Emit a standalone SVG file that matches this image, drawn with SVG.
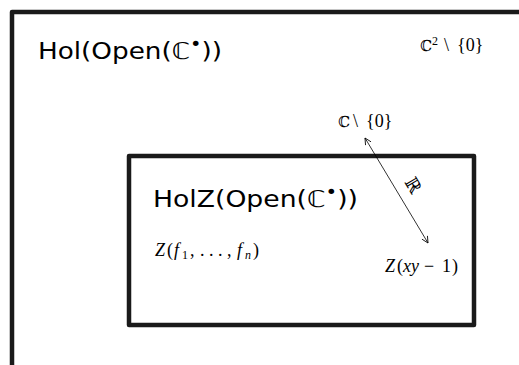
<svg xmlns="http://www.w3.org/2000/svg" width="519" height="365" viewBox="0 0 519 365">
<style>
.frame{fill:none;stroke:#1a1a1a;stroke-width:4.5;stroke-linejoin:round}
.big{font-family:"DejaVu Sans","Liberation Sans",sans-serif;font-size:23px;fill:#000}
.math{font-family:"Liberation Serif","DejaVu Serif",serif;font-size:18px;fill:#000}
.bb{font-family:"DejaVu Serif",serif;font-size:15px}
.it{font-style:italic}
.sub{font-size:12px}
.conn{stroke:#000;stroke-width:0.8;fill:none}
</style>
<defs>
<marker id="ah" viewBox="0 0 10 10" refX="9" refY="5" markerWidth="8" markerHeight="8" orient="auto-start-reverse" markerUnits="userSpaceOnUse">
<path d="M1,1 L9,5 L1,9" fill="none" stroke="#000" stroke-width="1"/>
</marker>
</defs>
<rect width="519" height="365" fill="#fff"/>
<g id="outer">
<rect class="frame" x="12" y="12" width="540" height="400"/>
<text class="big" x="38" y="59" textLength="184" lengthAdjust="spacingAndGlyphs">Hol(Open(ℂ<tspan font-size="17" dy="-9">•</tspan><tspan dy="9">))</tspan></text>
</g>
<g id="c2minus0">
<text class="math" y="51"><tspan class="bb" x="420">ℂ</tspan><tspan class="sub" x="432" y="45">2</tspan><tspan x="444" y="51">\</tspan><tspan x="457">{0}</tspan></text>
</g>
<g id="cminus0">
<text class="math" y="127"><tspan class="bb" x="338">ℂ</tspan><tspan x="353">\</tspan><tspan x="366">{0}</tspan></text>
</g>
<g id="inner">
<rect class="frame" x="129" y="156" width="345" height="169"/>
<text class="big" x="153" y="207" textLength="205" lengthAdjust="spacingAndGlyphs">HolZ(Open(ℂ<tspan font-size="17" dy="-9">•</tspan><tspan dy="9">))</tspan></text>
<text class="math" y="256"><tspan class="it" x="155">Z</tspan><tspan x="167">(</tspan><tspan class="it" x="174">f</tspan><tspan class="sub" x="182" y="259">1</tspan><tspan x="190" y="256">,</tspan><tspan x="200">.</tspan><tspan x="209">.</tspan><tspan x="218">.</tspan><tspan x="227">,</tspan><tspan class="it" x="237">f</tspan><tspan class="it sub" x="245" y="259">n</tspan><tspan x="253" y="256">)</tspan></text>
</g>
<g id="zxy">
<text class="math" y="272"><tspan class="it" x="385">Z</tspan><tspan x="397">(</tspan><tspan class="it" x="403">xy</tspan><tspan x="424">−</tspan><tspan x="442">1</tspan><tspan x="452">)</tspan></text>
</g>
<g id="connectors">
<line class="conn" x1="365" y1="138" x2="428" y2="243" marker-start="url(#ah)" marker-end="url(#ah)"/>
<text class="math" font-size="9" fill="#555" transform="translate(404,182) rotate(59)">ℝ</text>
</g>
</svg>
